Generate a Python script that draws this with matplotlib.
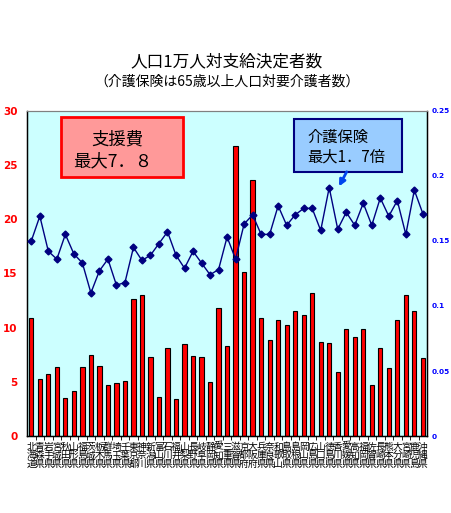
import matplotlib
matplotlib.use("Agg")
import matplotlib.pyplot as plt
from matplotlib.patches import Rectangle

plt.rcParams['font.family'] = ['Noto Sans CJK JP', 'DejaVu Sans']

prefectures = [
    "北海道", "青森県", "岩手県", "宮城県", "秋田県", "山形県", "福島県", "茨城県",
    "栃木県", "群馬県", "埼玉県", "千葉県", "東京都", "神奈川", "新潟県", "富山県",
    "石川県", "福井県", "山梨県", "長野県", "岐阜県", "静岡県", "愛知県", "三重県",
    "滋賀県", "京都府", "大阪府", "兵庫県", "奈良県", "和歌山", "鳥取県", "島根県",
    "岡山県", "広島県", "山口県", "徳島県", "香川県", "愛媛県", "高知県", "福岡県",
    "佐賀県", "長崎県", "熊本県", "大分県", "宮崎県", "鹿児島", "沖縄県",
]

# 支援費 支給決定者数 (人口1万人対)
shien = [
    10.9, 5.3, 5.7, 6.4, 3.5, 4.2, 6.4, 7.5, 6.5, 4.7, 4.9, 5.1, 12.6, 13.0,
    7.3, 3.6, 8.1, 3.4, 8.5, 7.4, 7.3, 5.0, 11.8, 8.3, 26.8, 15.1, 23.6, 10.9,
    8.9, 10.7, 10.2, 11.5, 11.2, 13.2, 8.7, 8.6, 5.9, 9.9, 9.1, 9.9, 4.7, 8.1,
    6.3, 10.7, 13.0, 11.5, 7.2,
]

# 介護保険 要介護者数 (65歳以上人口対)
kaigo = [
    0.150, 0.169, 0.142, 0.136, 0.155, 0.140, 0.133, 0.110, 0.127, 0.136, 0.116,
    0.118, 0.145, 0.135, 0.139, 0.148, 0.157, 0.139, 0.129, 0.142, 0.133, 0.124,
    0.128, 0.153, 0.136, 0.163, 0.170, 0.155, 0.155, 0.177, 0.162, 0.170, 0.175,
    0.175, 0.158, 0.191, 0.159, 0.172, 0.162, 0.179, 0.162, 0.183, 0.169, 0.181,
    0.155, 0.189, 0.171,
]

x = list(range(len(prefectures)))

fig = plt.figure(figsize=(4.51, 5.13), dpi=100)
ax = fig.add_axes([0.060, 0.150, 0.887, 0.634])
ax.set_facecolor("#CCFFFF")

ax.bar(x, shien, width=0.5, color="#FF0000", edgecolor="black", linewidth=0.8, zorder=2)
ax.set_xlim(-0.5, len(x) - 0.5)
ax.set_ylim(0, 30)
ax.set_yticks(range(0, 31, 5))
ax.tick_params(axis="y", length=0, labelsize=7.5, labelcolor="#FF0000", pad=7)
for lbl in ax.get_yticklabels():
    lbl.set_fontweight("bold")
    lbl.set_family("DejaVu Sans")

ax.set_xticks([i + 0.5 for i in x[:-1]], minor=True)
ax.set_xticks(x)
ax.set_xticklabels(["\n".join(p) for p in prefectures], fontsize=7, linespacing=0.85)
ax.tick_params(axis="x", which="major", length=0, pad=4)
ax.tick_params(axis="x", which="minor", length=3, color="black")

ax.spines["top"].set_color("#808080")
for s in ("left", "bottom", "right"):
    ax.spines[s].set_color("black")
    ax.spines[s].set_linewidth(1)

ax2 = ax.twinx()
ax2.plot(x, kaigo, color="#000080", linewidth=1, marker="D", markersize=3.5, zorder=3)
ax2.set_ylim(0, 0.25)
ax2.set_yticks([0, 0.05, 0.1, 0.15, 0.2, 0.25])
ax2.set_yticklabels(["0", "0.05", "0.1", "0.15", "0.2", "0.25"])
ax2.tick_params(axis="y", length=0, labelsize=5.3, labelcolor="#0000FF", pad=3.5)
for lbl in ax2.get_yticklabels():
    lbl.set_fontweight("bold")
    lbl.set_family("DejaVu Sans")
ax2.spines["top"].set_color("#808080")
ax2.spines["right"].set_color("black")

fig.text(0.503, 0.879, "人口1万人対支給決定者数", ha="center", va="center", fontsize=12)
fig.text(0.503, 0.840, "（介護保険は65歳以上人口対要介護者数）", ha="center", va="center", fontsize=10)

# 注記ボックス
ax2.add_patch(Rectangle((0.085, 0.797), 0.305, 0.185, transform=ax2.transAxes,
                        facecolor="#FF9999", edgecolor="#FF0000", linewidth=2, zorder=5))
ax2.text(0.225, 0.911, "支援費", transform=ax2.transAxes, ha="center", va="center",
         fontsize=12.5, zorder=6)
ax2.text(0.115, 0.843, "最大7．８", transform=ax2.transAxes, ha="left", va="center",
         fontsize=12.5, zorder=6)

ax2.add_patch(Rectangle((0.6675, 0.812), 0.27, 0.163, transform=ax2.transAxes,
                        facecolor="#99CCFF", edgecolor="#000080", linewidth=1.5, zorder=5))
ax2.text(0.70, 0.92, "介護保険", transform=ax2.transAxes, ha="left", va="center",
         fontsize=11, zorder=6)
ax2.text(0.70, 0.858, "最大1．7倍", transform=ax2.transAxes, ha="left", va="center",
         fontsize=11, zorder=6)
ax2.annotate("", xy=(36.0, 0.190), xytext=(37.2, 0.205),
             arrowprops=dict(arrowstyle="-|>", color="#0044EE", lw=2, mutation_scale=9),
             zorder=6)

fig.savefig("out.png", dpi=100)
